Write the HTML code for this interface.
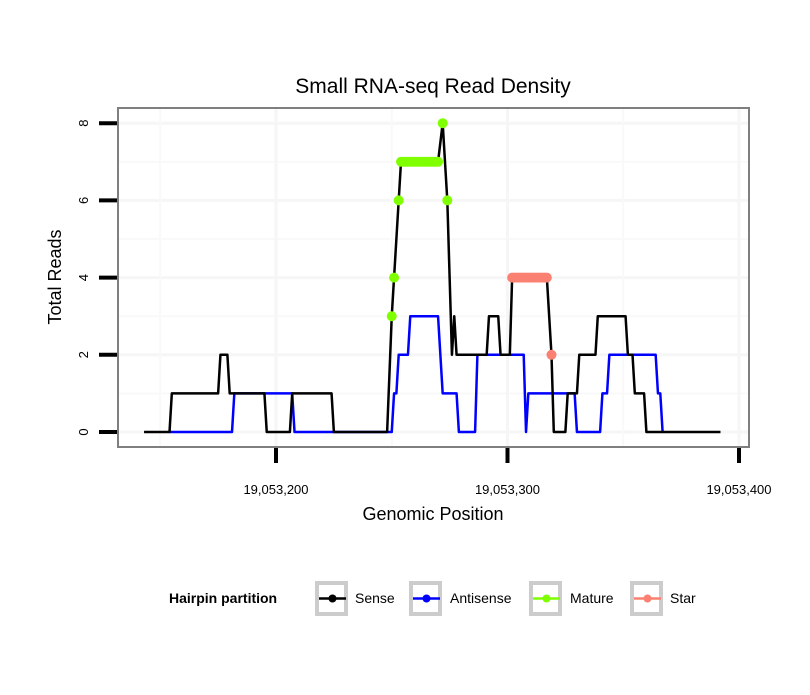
<!DOCTYPE html>
<html><head><meta charset="utf-8"><style>
body{margin:0;background:#fff;}
svg text{font-family:"Liberation Sans",sans-serif;}
</style></head><body>
<svg width="810" height="690" xmlns="http://www.w3.org/2000/svg">
<g id="grid"></g>
<rect x="118" y="108" width="631" height="339" fill="none" stroke="#7f7f7f" stroke-width="2"/>
<g id="marks"></g>
<g id="axes"></g>
<text x="433" y="93" font-size="21" text-anchor="middle">Small RNA-seq Read Density</text>
<text x="433" y="520" font-size="18" text-anchor="middle">Genomic Position</text>
<text transform="translate(61,277) rotate(-90)" font-size="18" text-anchor="middle">Total Reads</text>
<g id="legend">
<text x="169" y="603" font-size="14" font-weight="bold">Hairpin partition</text>
</g>
<script>
const xTicks=[19053200,19053300,19053400];
const xTickLabels=["19,053,200","19,053,300","19,053,400"];
const yTicks=[0,2,4,6,8];
const sensePos=[143,154,155,175,176,179,180,195,196,206,207,224,225,248,250,251,253,254,270,272,274,276,277,278,291,292,296,297,301,302,317,319,320,325,326,330,331,338,339,351,352,354,355,359,360,392];
const senseVal=[0,0,1,1,2,2,1,1,0,0,1,1,0,0,3,4,6,7,7,8,6,2,3,2,2,3,3,2,2,4,4,2,0,0,1,1,2,2,3,3,2,2,1,1,0,0];
const antiPos=[154,181,182,207,208,250,251,252,253,257,258,270,272,278,279,286,287,307,308,309,329,330,340,341,343,344,364,365,366,367];
const antiVal=[0,0,1,1,0,0,1,1,2,2,3,3,1,1,0,0,2,2,0,1,1,0,0,1,1,2,2,1,1,0];
const maturePos=[250,251,253,254,255,256,257,258,259,260,261,262,263,264,265,266,267,268,269,270,272,274];
const matureVal=[3,4,6,7,7,7,7,7,7,7,7,7,7,7,7,7,7,7,7,7,8,6];
const starPos=[302,303,304,305,306,307,308,309,310,311,312,313,314,315,316,317,319];
const starVal=[4,4,4,4,4,4,4,4,4,4,4,4,4,4,4,4,2];
const legendLabels=["Sense","Antisense","Mature","Star"];
const legendColors=["#000000","#0000ff","#7fff00","#fa8072"];
const NS="http://www.w3.org/2000/svg";
function sx(p){return 276+(p-200)*2.315;}
function sxa(v){return 276+(v-19053200)*2.315;}
function sy(v){return 432-v*38.6;}
function mk(t,a,parent){const e=document.createElementNS(NS,t);for(const k in a)e.setAttribute(k,a[k]);parent.appendChild(e);return e;}
const grid=document.getElementById('grid'),marks=document.getElementById('marks'),axes=document.getElementById('axes'),legend=document.getElementById('legend');
mk('rect',{x:118,y:108,width:631,height:339,fill:'#fff'},grid);
for(let v=1;v<=8;v+=2){const l=mk('line',{x1:118,x2:749,y1:sy(v),y2:sy(v),stroke:'#f9f9f9','stroke-width':2},grid);}
yTicks.forEach(v=>{const l=mk('line',{x1:118,x2:749,y1:sy(v),y2:sy(v),stroke:'#f6f6f6','stroke-width':3},grid);});
[19053150,19053250,19053350].forEach(v=>{const l=mk('line',{x1:sxa(v),x2:sxa(v),y1:108,y2:447,stroke:'#f9f9f9','stroke-width':2},grid);});
xTicks.forEach(v=>{const l=mk('line',{x1:sxa(v),x2:sxa(v),y1:108,y2:447,stroke:'#f6f6f6','stroke-width':3},grid);});
function line(P,V,c,name){const pts=P.map((p,i)=>sx(p)+','+sy(V[i])).join(' ');const e=mk('polyline',{points:pts,fill:'none',stroke:c,'stroke-width':2.5,'stroke-linejoin':'round'},marks);}
line(antiPos,antiVal,'#0000ff','antisense-line');
line(sensePos,senseVal,'#000000','sense-line');
function pts(P,V,c,name){P.forEach((p,i)=>{const e=mk('circle',{cx:sx(p),cy:sy(V[i]),r:5,fill:c},marks);});}
pts(maturePos,matureVal,'#7fff00','mature-point');
pts(starPos,starVal,'#fa8072','star-point');
xTicks.forEach((v,i)=>{const l=mk('line',{x1:sxa(v),x2:sxa(v),y1:448,y2:463,stroke:'#000','stroke-width':4},axes);
const t=mk('text',{x:sxa(v),y:494,'font-size':13,'text-anchor':'middle'},axes);t.textContent=xTickLabels[i];});
yTicks.forEach(v=>{const l=mk('line',{x1:99,x2:117,y1:sy(v),y2:sy(v),stroke:'#000','stroke-width':4},axes);
const t=mk('text',{transform:'translate(88,'+sy(v)+') rotate(-90)','font-size':13,'text-anchor':'middle'},axes);t.textContent=String(v);});
const bx=[315,409,529,630],lx=[355,450,570,670];
legendLabels.forEach((lab,i)=>{const g=mk('g',{},legend);
mk('rect',{x:bx[i]+2,y:583,width:29,height:31,fill:'#fff',stroke:'#cccccc','stroke-width':4},g);
mk('line',{x1:bx[i]+4,x2:bx[i]+31,y1:598.5,y2:598.5,stroke:legendColors[i],'stroke-width':2.5},g);
mk('circle',{cx:bx[i]+17.5,cy:598.5,r:4,fill:legendColors[i]},g);
const t=mk('text',{x:lx[i],y:603,'font-size':14},g);t.textContent=lab;});
</script>
</svg>
</body></html>
